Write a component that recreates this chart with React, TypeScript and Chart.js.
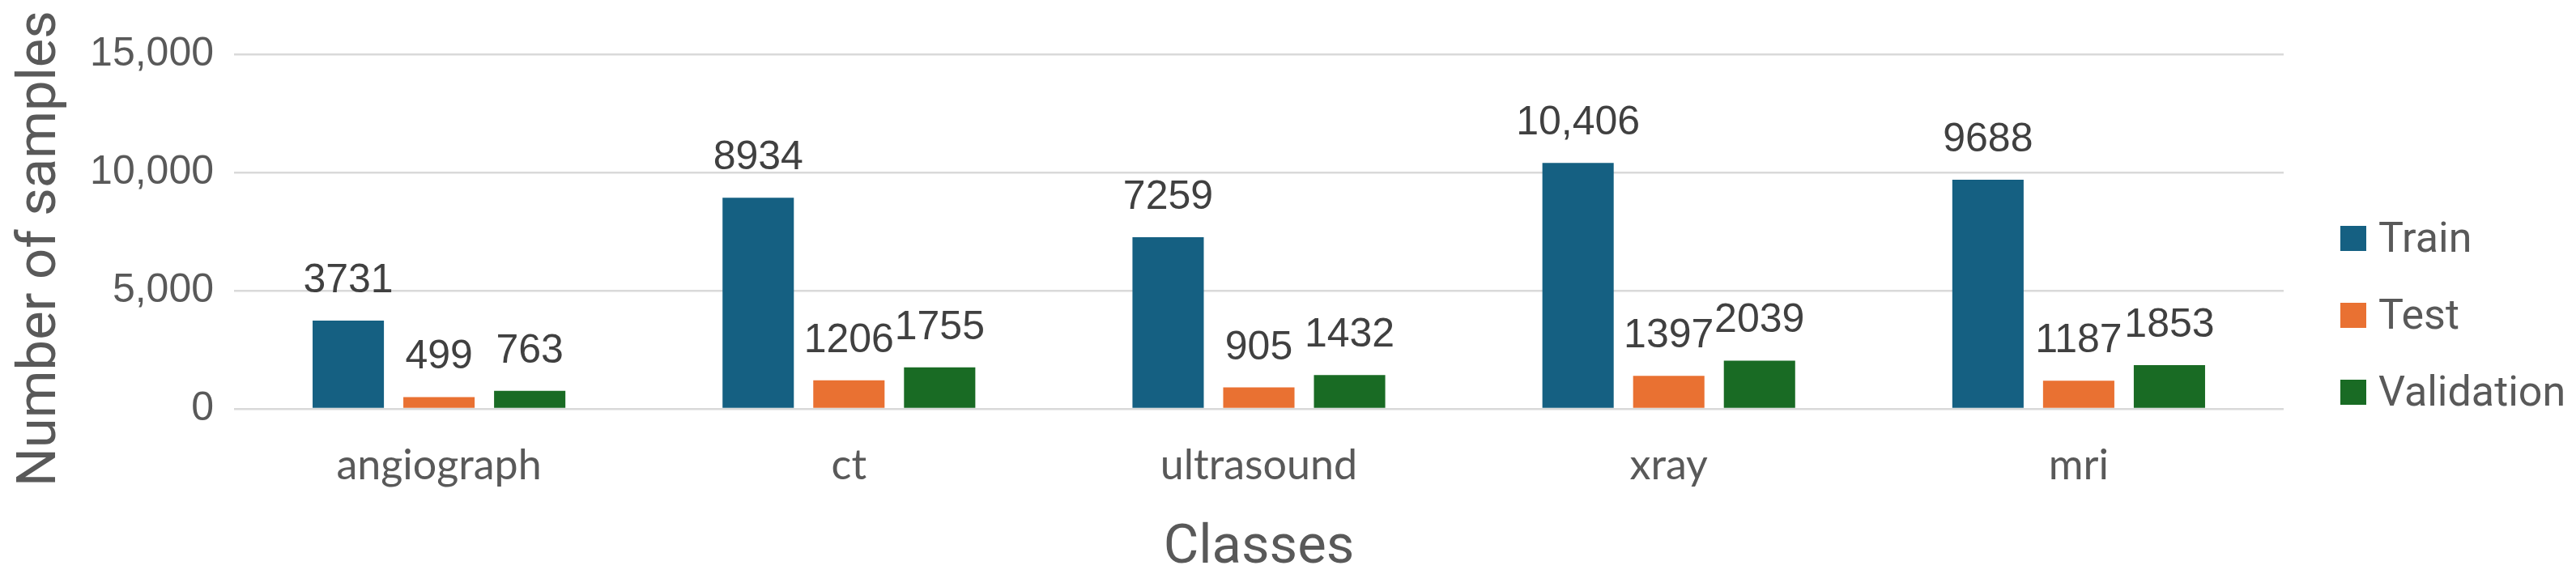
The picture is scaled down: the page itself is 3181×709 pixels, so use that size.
import React, { useEffect, useRef } from "react";
import { Chart, registerables } from "chart.js";

Chart.register(...registerables);

const categories = ["angiograph", "ct", "ultrasound", "xray", "mri"];
const trainValues = [3731, 8934, 7259, 10406, 9688];
const testValues = [499, 1206, 905, 1397, 1187];
const validationValues = [763, 1755, 1432, 2039, 1853];
const seriesNames = ["Train", "Test", "Validation"];
const seriesColors = ["#156082", "#E97132", "#196B24"];
const yTickValues = [0, 5000, 10000, 15000];
const xTitle = "Classes";
const yTitle = "Number of samples";

const W = 3181;
const H = 709;

const fmtLabel = (v: number) => (v >= 10000 ? v.toLocaleString("en-US") : String(v));

const barLabelPlugin = {
  id: "barLabels",
  afterDatasetsDraw(chart: any) {
    const ctx = chart.ctx;
    ctx.save();
    ctx.font = '50px "Liberation Sans", Arial, sans-serif';
    ctx.fillStyle = "#404040";
    ctx.textAlign = "center";
    ctx.textBaseline = "alphabetic";
    chart.data.datasets.forEach((ds: any, di: number) => {
      const meta = chart.getDatasetMeta(di);
      meta.data.forEach((el: any, i: number) => {
        ctx.fillText(fmtLabel(ds.data[i]), el.x, el.y - 35);
      });
    });
    ctx.restore();
  },
};

const titlesLegendPlugin = {
  id: "titlesLegend",
  afterDraw(chart: any) {
    const ctx = chart.ctx;
    const area = chart.chartArea;
    ctx.save();
    ctx.fillStyle = "#595959";
    ctx.font = '67px Roboto, "Liberation Sans", sans-serif';
    ctx.textAlign = "center";
    ctx.textBaseline = "alphabetic";
    ctx.fillText(xTitle, (area.left + area.right) / 2, 695);
    ctx.save();
    ctx.translate(68, 307);
    ctx.rotate(-Math.PI / 2);
    ctx.fillText(yTitle, 0, 0);
    ctx.restore();

    // legend
    const x0 = area.right + 70;
    ctx.font = '52px Roboto, "Liberation Sans", sans-serif';
    ctx.textAlign = "left";
    chart.data.datasets.forEach((ds: any, i: number) => {
      const top = 279 + i * 95;
      ctx.fillStyle = ds.backgroundColor;
      ctx.fillRect(x0, top, 32, 31);
      ctx.fillStyle = "#595959";
      ctx.fillText(ds.label, x0 + 47, top + 32);
    });
    ctx.restore();
  },
};

export default function App() {
  const canvasRef = useRef<HTMLCanvasElement | null>(null);

  useEffect(() => {
    document.body.style.margin = "0";
    document.body.style.overflow = "hidden";
    const canvas = canvasRef.current;
    if (!canvas) return;
    const seriesValues = [trainValues, testValues, validationValues];
    const chart = new Chart(canvas, {
      type: "bar",
      data: {
        labels: categories,
        datasets: seriesNames.map((name, i) => ({
          label: name,
          data: seriesValues[i],
          backgroundColor: seriesColors[i],
          borderWidth: 0,
          categoryPercentage: 0.664,
          barPercentage: 0.786,
        })),
      },
      options: {
        responsive: false,
        animation: false,
        devicePixelRatio: 1,
        layout: { padding: { left: 0, top: 67, right: W - 2820, bottom: 0 } },
        plugins: {
          legend: { display: false },
          tooltip: { enabled: false },
          title: { display: false },
        },
        scales: {
          x: {
            grid: { display: false, drawTicks: false },
            border: { display: false },
            ticks: {
              color: "#595959",
              font: { family: 'Lato, "Liberation Sans", sans-serif', size: 52 },
              padding: 39,
              maxRotation: 0,
              autoSkip: false,
            },
            afterFit: (scale: any) => {
              scale.height = H - 505;
            },
          },
          y: {
            min: 0,
            max: 15000,
            afterBuildTicks: (scale: any) => {
              scale.ticks = yTickValues.map((v) => ({ value: v }));
            },
            grid: { color: "#d9d9d9", lineWidth: 2.5, drawTicks: false },
            border: { display: false },
            ticks: {
              color: "#595959",
              font: { family: '"Liberation Sans", Arial, sans-serif', size: 50 },
              padding: 25,
              callback: (v: any) => Number(v).toLocaleString("en-US"),
            },
            afterFit: (scale: any) => {
              scale.width = 289;
            },
          },
        },
      },
      plugins: [barLabelPlugin, titlesLegendPlugin],
    });
    if ((document as any).fonts && (document as any).fonts.ready) {
      (document as any).fonts.ready.then(() => chart.update());
    }
    return () => chart.destroy();
  }, []);

  return (
    <div style={{ width: W, height: H, background: "#fff" }}>
      <canvas ref={canvasRef} width={W} height={H} style={{ display: "block" }} />
    </div>
  );
}
